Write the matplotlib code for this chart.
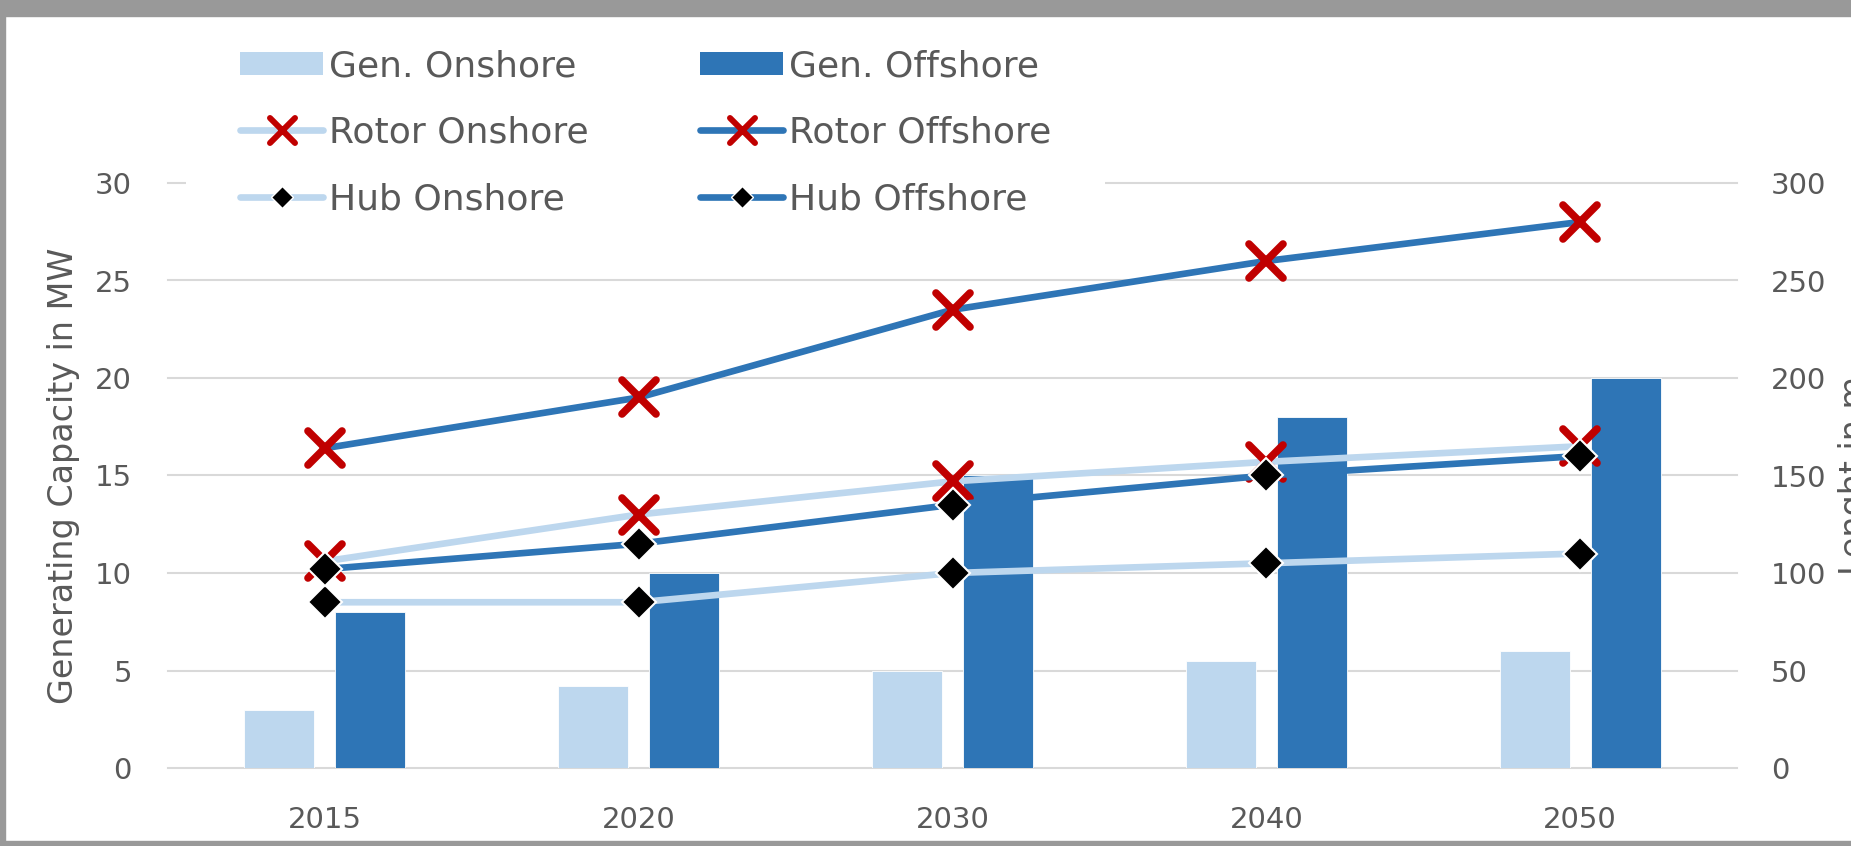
import numpy as np
import matplotlib
matplotlib.use('Agg')
import matplotlib.pyplot as plt
from matplotlib.patches import Patch, Rectangle
from matplotlib.lines import Line2D
from matplotlib.markers import MarkerStyle

# Data
years = ['2015', '2020', '2030', '2040', '2050']
gen_onshore = [3, 4.2, 5, 5.5, 6]          # MW
gen_offshore = [8, 10, 15, 18, 20]         # MW
rotor_onshore = [106, 130, 147, 157, 165]  # m
rotor_offshore = [164, 190, 235, 260, 280]
hub_onshore = [85, 85, 100, 105, 110]
hub_offshore = [102, 115, 135, 150, 160]

light = '#BDD7EE'
dark = '#2E75B6'
red = '#C00000'
txt = '#595959'
grid_col = '#D9D9D9'

W, H = 1851, 846
fig = plt.figure(figsize=(W / 100, H / 100), dpi=100)
fig.patch.set_facecolor('white')
ax = fig.add_axes([168 / W, 1 - 768 / H, (1737 - 168) / W, (768 - 183) / H])
ax2 = ax.twinx()

x = np.arange(len(years))
bw = 0.223
off = 0.145
ax.bar(x - off, gen_onshore, bw, color=light, edgecolor='white', linewidth=0.6, zorder=2)
ax.bar(x + off, gen_offshore, bw, color=dark, edgecolor='white', linewidth=0.6, zorder=2)

xm = MarkerStyle('x', capstyle='round')
line_kw = dict(lw=4.8, solid_capstyle='round', solid_joinstyle='round')
ax2.plot(x, rotor_onshore, color=light, marker=xm, ms=25, mew=5.5, mec=red, **line_kw)
ax2.plot(x, rotor_offshore, color=dark, marker=xm, ms=25, mew=5.5, mec=red, **line_kw)
ax2.plot(x, hub_onshore, color=light, marker='D', ms=17, mfc='black', mec='white', mew=1.5, **line_kw)
ax2.plot(x, hub_offshore, color=dark, marker='D', ms=17, mfc='black', mec='white', mew=1.5, **line_kw)

ax.set_xlim(-0.5, 4.5)
ax.set_ylim(0, 30)
ax2.set_ylim(0, 300)
ax.set_xticks(x)
ax.set_xticklabels(years)
ax.set_yticks(range(0, 31, 5))
ax2.set_yticks(range(0, 301, 50))

ax.set_axisbelow(True)
ax.yaxis.grid(True, color=grid_col, lw=1.5)
for gl in ax.get_ygridlines():
    gl.set_clip_on(False)
for a in (ax, ax2):
    for s in a.spines.values():
        s.set_visible(False)
ax.tick_params(axis='y', length=0, labelsize=21, labelcolor=txt, pad=26)
ax.tick_params(axis='x', length=0, labelsize=21, labelcolor=txt, pad=27)
ax2.tick_params(axis='y', length=0, labelsize=21, labelcolor=txt, pad=24.5)

ax.set_ylabel('Generating Capacity in MW', fontsize=24, color=txt)
ax.yaxis.set_label_coords(-0.0561, 0.5)
ax2.set_ylabel('Lenght in m', fontsize=24, color=txt)
ax2.yaxis.set_label_coords(1.0645, 0.5)

# Legend (Excel style, row-wise order)
h_gen_on = Patch(facecolor=light)
h_gen_off = Patch(facecolor=dark)
h_rot_on = Line2D([], [], color=light, marker=xm, ms=18, mew=4.3, mec=red, **line_kw)
h_rot_off = Line2D([], [], color=dark, marker=xm, ms=18, mew=4.3, mec=red, **line_kw)
h_hub_on = Line2D([], [], color=light, marker='D', ms=11, mfc='black', mec='white', mew=1, **line_kw)
h_hub_off = Line2D([], [], color=dark, marker='D', ms=11, mfc='black', mec='white', mew=1, **line_kw)
handles = [h_gen_on, h_rot_on, h_hub_on, h_gen_off, h_rot_off, h_hub_off]
labels = ['Gen. Onshore', 'Rotor Onshore', 'Hub Onshore',
          'Gen. Offshore', 'Rotor Offshore', 'Hub Offshore']
leg = ax2.legend(handles, labels, ncol=2, loc='upper left',
                 bbox_to_anchor=(186 / W, 1 + 5 / H), bbox_transform=fig.transFigure,
                 frameon=True, facecolor='white', edgecolor='none', framealpha=1,
                 fancybox=False, fontsize=26, handlelength=2.3, handleheight=0.64,
                 handletextpad=0.15, columnspacing=3.1, labelspacing=0.9,
                 borderpad=1.5, borderaxespad=0, labelcolor=txt)

# grey frame of the screenshot
grey = '#999999'
fig.add_artist(Rectangle((0, 1 - 16 / H), 1, 16 / H, transform=fig.transFigure, color=grey, zorder=20))
fig.add_artist(Rectangle((0, 0), 5 / W, 1, transform=fig.transFigure, color=grey, zorder=20))
fig.add_artist(Rectangle((0, 0), 1, 5 / H, transform=fig.transFigure, color=grey, zorder=20))

fig.savefig('out.png', dpi=100)
